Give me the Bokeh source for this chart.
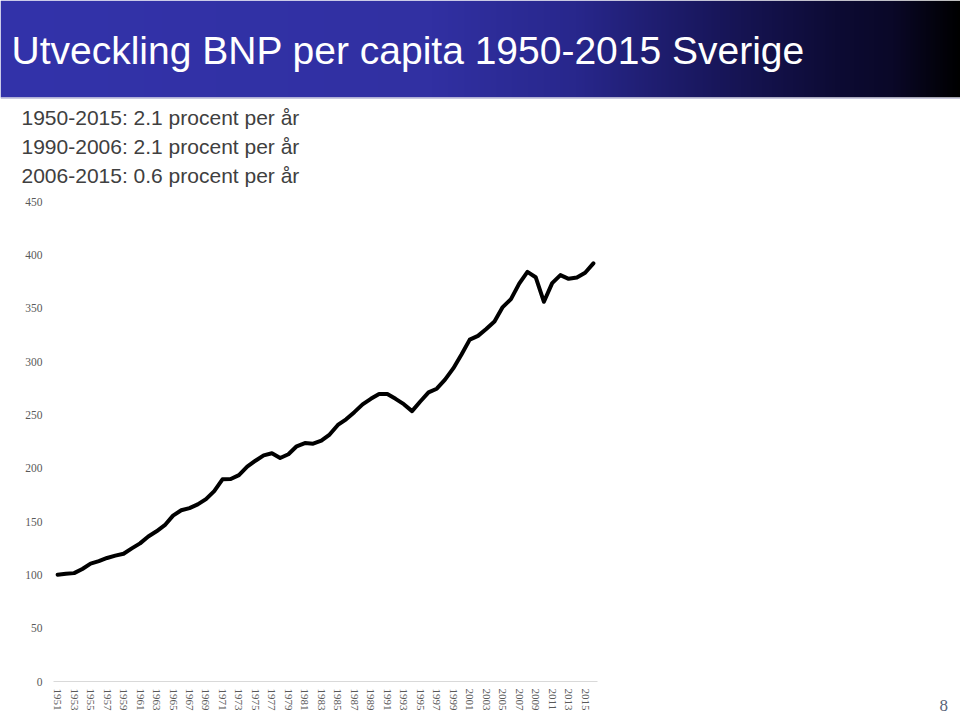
import numpy as np
from bokeh.plotting import figure
from bokeh.layouts import column, row
from bokeh.models import Label, FixedTicker
from bokeh.core.properties import value
from bokeh.embed import file_html
from bokeh.resources import INLINE

# ---- data ----
years = list(range(1950, 2016))
bnp_index = [100, 101, 101.6, 105.5, 110.5, 112.8, 115.8, 118, 119.8, 124.8,
             129.5, 136, 140.8, 146.5, 155.5, 160.5, 162.5, 166, 171, 178.5,
             189.5, 189.8, 193.5, 201.5, 207, 212, 214, 209.5, 213, 220.5,
             223.5, 223, 225.8, 231.5, 240.5, 245.8, 252.5, 259.8, 265, 269.5,
             269.5, 265, 260, 253.5, 262.5, 271, 274.5, 283, 293.5, 306.5,
             320.5, 324, 330.5, 337.5, 351, 358.5, 373, 384, 379, 356,
             373.5, 381, 377.5, 378.8, 383.2, 392]
x_tick_labels = ["1951", "1953", "1955", "1957", "1959", "1961", "1963", "1965",
                 "1967", "1969", "1971", "1973", "1975", "1977", "1979", "1981",
                 "1983", "1985", "1987", "1989", "1991", "1993", "1995", "1997",
                 "1999", "2001", "2003", "2005", "2007", "2009", "2011", "2013",
                 "2015"]
y_ticks = [0, 50, 100, 150, 200, 250, 300, 350, 400, 450]
title_text = "Utveckling BNP per capita 1950-2015 Sverige"
subtitle_lines = ["1950-2015: 2.1 procent per år",
                  "1990-2006: 2.1 procent per år",
                  "2006-2015: 0.6 procent per år"]
page_number = "8"

W = 960
TOP_H = 194
CHART_H = 714 - TOP_H

# ---- header figure (banner + subtitles) ----
top = figure(width=W, height=TOP_H, x_range=(0, W), y_range=(0, TOP_H),
             output_backend="svg", toolbar_location=None, min_border=0)
top.axis.visible = False
top.grid.visible = False
top.outline_line_color = None
top.background_fill_color = "white"
top.border_fill_color = "white"

stops = [(0.0, (51, 51, 170)), (0.45, (49, 48, 162)), (0.6, (40, 39, 140)),
         (0.75, (24, 22, 90)), (0.87, (13, 11, 52)), (0.93, (10, 8, 40)), (1.0, (0, 0, 0))]
N = W
px = (np.arange(N) + 0.5) / W
sp = [s[0] for s in stops]
rgb = np.zeros((1, N, 4), dtype=np.uint8)
for c in range(3):
    rgb[0, :, c] = np.interp(px, sp, [s[1][c] for s in stops]).astype(np.uint8)
rgb[0, :, 3] = 255
img = rgb.view(dtype=np.uint32).reshape((1, N))
top.image_rgba(image=[img], x=0, y=TOP_H - 97, dw=W, dh=97)
top.quad(left=[0], right=[W], top=[TOP_H - 97], bottom=[TOP_H - 98.6],
         fill_color="#c9c9de", line_color=None)

top.text(x=[11], y=[TOP_H - 50], text=[title_text], text_color="white",
         text_font=value("Liberation Sans"), text_font_size="39px",
         text_baseline="alphabetic")
top.text(x=[21, 21, 21], y=[TOP_H - 116.5, TOP_H - 145.5, TOP_H - 174.5],
         text=subtitle_lines, text_color="#404040",
         text_font=value("Liberation Sans"), text_font_size="21px",
         text_baseline="alphabetic")

# ---- chart ----
p = figure(width=W, height=CHART_H, x_range=(-0.5, 65.5), y_range=(0, 450),
           output_backend="svg", toolbar_location=None,
           min_border_left=53, min_border_right=363, min_border_top=201 - TOP_H,
           min_border_bottom=33)
p.outline_line_color = None
p.grid.visible = False
p.background_fill_color = "white"
p.border_fill_color = "white"

xs = list(range(len(years)))
p.line(xs, bnp_index, line_color="black", line_width=4, line_join="round", line_cap="round")

tick_pos = list(range(0, len(years), 2))[:len(x_tick_labels)]
p.xaxis.ticker = FixedTicker(ticks=tick_pos)
p.xaxis.major_label_overrides = {t: lab for t, lab in zip(tick_pos, x_tick_labels)}
p.xaxis.major_label_orientation = "vertical"
p.xaxis.major_label_text_font = "Liberation Serif"
p.xaxis.major_label_text_font_size = "11px"
p.xaxis.major_label_text_color = "#595959"
p.xaxis.major_label_standoff = 7
p.xaxis.axis_line_color = "#d9d9d9"
p.xaxis.axis_line_width = 1
p.xaxis.major_tick_line_color = None
p.xaxis.minor_tick_line_color = None
p.xaxis.major_tick_out = 0
p.xaxis.major_tick_in = 0
p.xaxis.minor_tick_out = 0

p.yaxis.ticker = FixedTicker(ticks=y_ticks)
p.yaxis.major_label_text_font = "Liberation Serif"
p.yaxis.major_label_text_font_size = "11.5px"
p.yaxis.major_label_text_color = "#595959"
p.yaxis.major_label_standoff = 11
p.yaxis.axis_line_color = None
p.yaxis.major_tick_line_color = None
p.yaxis.minor_tick_line_color = None
p.yaxis.major_tick_out = 0
p.yaxis.major_tick_in = 0
p.yaxis.minor_tick_out = 0

p.add_layout(Label(x=342, y=-24, x_units="screen", y_units="screen", text=page_number,
                   text_color="#5a6478", text_font="Liberation Serif",
                   text_font_size="17px", text_baseline="alphabetic"), "right")

layout = column(top, row(p), spacing=0)
open("out.html", "w").write(file_html(layout, INLINE))
